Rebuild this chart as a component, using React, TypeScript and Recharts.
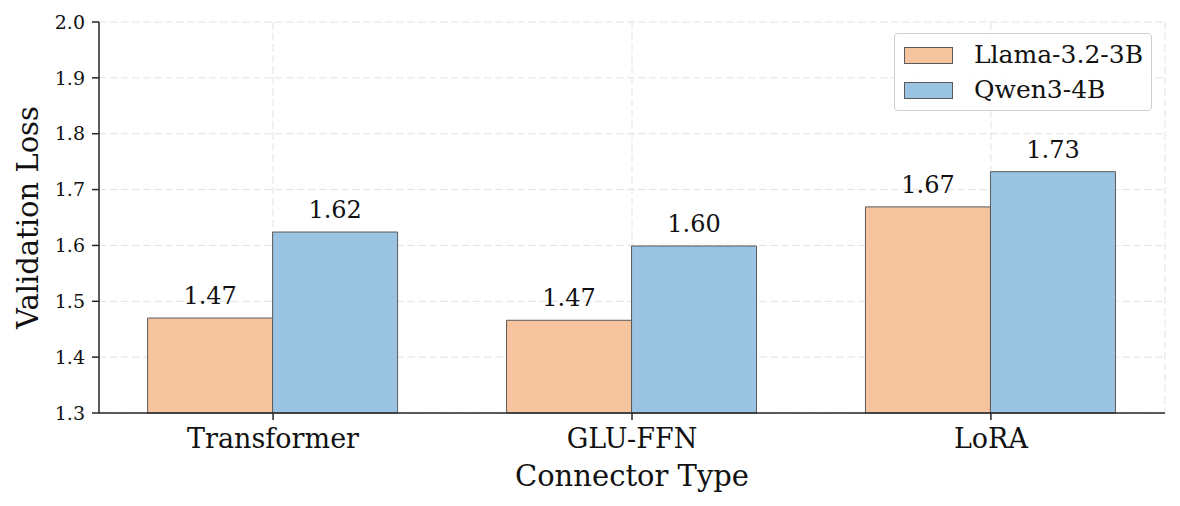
import { Bar, BarChart, CartesianGrid, LabelList, XAxis, YAxis } from 'recharts';

const connectors = ['Transformer', 'GLU-FFN', 'LoRA'];
const llamaLoss = [1.47, 1.466, 1.669];
const qwenLoss = [1.624, 1.599, 1.732];
const yTicks = [1.3, 1.4, 1.5, 1.6, 1.7, 1.8, 1.9, 2.0];

const LLAMA_COLOR = '#f6c5a0';
const QWEN_COLOR = '#9bc3e2';
const FONT = "'DejaVu Serif', serif";

const data = connectors.map((name, i) => ({
  idx: i,
  name,
  llama: llamaLoss[i],
  qwen: qwenLoss[i]
}));

const legendItems = [
  { label: 'Llama-3.2-3B', color: LLAMA_COLOR },
  { label: 'Qwen3-4B', color: QWEN_COLOR }
];

function LegendBox() {
  return (
    <div
      style={{
        position: 'absolute',
        left: 894,
        top: 33,
        width: 256,
        height: 76,
        border: '1px solid #d0d0d0',
        borderRadius: 4,
        background: 'rgba(255,255,255,0.85)',
        fontFamily: FONT,
        fontSize: 25,
        color: '#111'
      }}
    >
      {legendItems.map((item, i) => (
        <div key={item.label} style={{ position: 'absolute', left: 9, top: 6 + i * 35, display: 'flex', alignItems: 'center', height: 30 }}>
          <span style={{ display: 'inline-block', width: 49, height: 17, background: item.color, border: '1px solid #5a5a5a', boxSizing: 'border-box' }} />
          <span style={{ marginLeft: 21, lineHeight: '30px', fontFamily: FONT }}>{item.label}</span>
        </div>
      ))}
    </div>
  );
}

export default function App() {
  return (
    <div style={{ position: 'absolute', left: 0, top: 0, width: 1180, height: 506, background: '#fff' }}>
      <BarChart width={1180} height={506} data={data} margin={{ top: 22, right: 15, left: 0, bottom: 0 }} barGap={0}>
        <CartesianGrid stroke="#e2e2e2" strokeDasharray="7.7 3.3" />
        <XAxis
          dataKey="idx"
          type="number"
          domain={[-0.485, 2.485]}
          ticks={[0, 1, 2]}
          tickFormatter={(v) => connectors[Number(v)] ?? ''}
          height={93}
          tickSize={7}
          tickMargin={9}
          stroke="#262626"
          strokeWidth={1.5}
          tick={{ fill: '#111', fontSize: 27, fontFamily: FONT }}
          label={{ value: 'Connector Type', position: 'insideBottom', offset: 20, fill: '#111', fontSize: 29, fontFamily: FONT }}
        />
        <YAxis
          domain={[1.3, 2.0]}
          ticks={yTicks}
          tickFormatter={(v) => Number(v).toFixed(1)}
          width={99}
          tickSize={7}
          tickMargin={7}
          stroke="#262626"
          strokeWidth={1.5}
          tick={{ fill: '#111', fontSize: 19, fontFamily: FONT }}
          label={{ value: 'Validation Loss', angle: -90, position: 'center', dx: -22, fill: '#111', fontSize: 29, fontFamily: FONT }}
        />
        <Bar dataKey="llama" name="Llama-3.2-3B" fill={LLAMA_COLOR} stroke="#5a5a5a" strokeWidth={1} barSize={125} isAnimationActive={false}>
          <LabelList dataKey="llama" position="top" offset={14} formatter={(v: number) => Number(v).toFixed(2)} style={{ fill: '#111', fontSize: 24, fontFamily: FONT }} />
        </Bar>
        <Bar dataKey="qwen" name="Qwen3-4B" fill={QWEN_COLOR} stroke="#5a5a5a" strokeWidth={1} barSize={125} isAnimationActive={false}>
          <LabelList dataKey="qwen" position="top" offset={14} formatter={(v: number) => Number(v).toFixed(2)} style={{ fill: '#111', fontSize: 24, fontFamily: FONT }} />
        </Bar>
      </BarChart>
      <LegendBox />
    </div>
  );
}
